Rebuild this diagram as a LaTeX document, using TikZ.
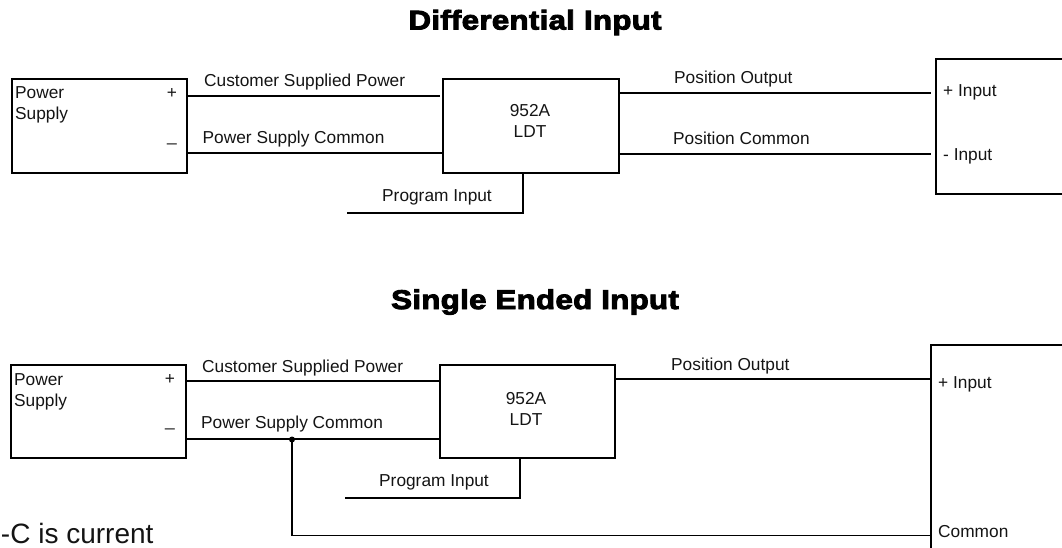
\documentclass[tikz,border=0pt]{standalone}
\usepackage{fontspec}
\setmainfont{Liberation Sans}
\newfontfamily\titlefont[FakeBold=3.5,FakeStretch=1.16,LetterSpace=1]{Liberation Sans Bold}
\begin{document}
\begin{tikzpicture}[x=1pt,y=-1pt,
  box/.style={draw=black,line width=1.9pt,rectangle,inner sep=0pt,anchor=north west,fill=none},
  wire/.style={draw=black,line width=1.9pt,line cap=butt},
  lbl/.style={inner sep=0pt,anchor=base west,font=\fontsize{17.3}{21}\selectfont,text=black!92},
  ctr/.style={lbl,anchor=base},
  heading/.style={inner sep=0pt,anchor=base,font=\fontsize{27}{30}\titlefont}]
\useasboundingbox (0,0) rectangle (1062,547);
% --- Differential Input
\node[heading] (t1) at (535,29.5) {Differential Input};
\node[box,minimum width=175pt,minimum height=94pt] (ps1) at (11,78) {};
\node[box,minimum width=176pt,minimum height=94pt] (ldt1) at (442,78) {};
\node[box,minimum width=200pt,minimum height=135pt] (in1) at (935,58) {};
\node[lbl] (ps1a) at (15,98.5) {Power};
\node[lbl] (ps1b) at (15,119.5) {Supply};
\node[ctr] (ps1p) at (172,98) {+};
\node[ctr] (ps1m) at (172,141) {\_};
\node[ctr] (l1a) at (530,116) {952A};
\node[ctr] (l1b) at (530,137) {LDT};
\node[lbl] (w1a) at (204,86) {Customer Supplied Power};
\node[lbl] (w1b) at (202.5,143.6) {Power Supply Common};
\node[lbl] (w1c) at (382,201.5) {Program Input};
\node[lbl] (w1d) at (674,83) {Position Output};
\node[lbl] (w1e) at (673,144) {Position Common};
\node[lbl] (i1a) at (943,96) {+ Input};
\node[lbl] (i1b) at (943,160) {- Input};
\coordinate (c1a) at (ps1.east |- 0,96);
\coordinate (c1b) at (440,96);
\coordinate (c1c) at (ps1.east |- 0,153);
\coordinate (c1d) at (ldt1.west |- 0,153);
\coordinate (c1e) at (ldt1.east |- 0,93);
\coordinate (c1f) at (931,93);
\coordinate (c1g) at (ldt1.east |- 0,154);
\coordinate (c1h) at (931,154);
\coordinate (c1i) at (523,172);
\coordinate (c1j) at (523,213);
\coordinate (c1k) at (347,213);
\draw[wire] (c1a) -- (c1b);
\draw[wire] (c1c) -- (c1d);
\draw[wire] (c1e) -- (c1f);
\draw[wire] (c1g) -- (c1h);
\draw[wire] (c1i) -- (c1j) -- (c1k);
% --- Single Ended Input
\node[heading] (t2) at (535,309) {Single Ended Input};
\node[box,minimum width=175pt,minimum height=93pt] (ps2) at (10,364) {};
\node[box,minimum width=175pt,minimum height=93pt] (ldt2) at (439,364) {};
\node[box,minimum width=200pt,minimum height=260pt] (in2) at (930,344) {};
\node[lbl] (ps2a) at (14,385) {Power};
\node[lbl] (ps2b) at (14,406) {Supply};
\node[ctr] (ps2p) at (170,384.5) {+};
\node[ctr] (ps2m) at (170,426) {\_};
\node[ctr] (l2a) at (526,404) {952A};
\node[ctr] (l2b) at (526,425) {LDT};
\node[lbl] (w2a) at (202,372) {Customer Supplied Power};
\node[lbl] (w2b) at (201,428.4) {Power Supply Common};
\node[lbl] (w2c) at (379,486.7) {Program Input};
\node[lbl] (w2d) at (671,370) {Position Output};
\node[lbl] (i2a) at (938,388) {+ Input};
\node[lbl] (i2b) at (938,537) {Common};
\node[inner sep=0pt,anchor=base west,font=\fontsize{28}{32}\selectfont,text=black!92] (note) at (0.8,543) {-C is current};
\coordinate (c2a) at (ps2.east |- 0,381);
\coordinate (c2b) at (ldt2.west |- 0,381);
\coordinate (c2c) at (ps2.east |- 0,439);
\coordinate (c2d) at (ldt2.west |- 0,439);
\coordinate (c2e) at (ldt2.east |- 0,379);
\coordinate (c2f) at (in2.west |- 0,379);
\coordinate (c2g) at (520,457);
\coordinate (c2h) at (520,498);
\coordinate (c2i) at (345,498);
\coordinate (j) at (292,439.5);
\coordinate (c2k) at (292,535.5);
\coordinate (c2l) at (in2.west |- 0,535.5);
\draw[wire] (c2a) -- (c2b);
\draw[wire] (c2c) -- (c2d);
\draw[wire] (c2e) -- (c2f);
\draw[wire] (c2g) -- (c2h) -- (c2i);
\draw[wire] (j) -- (c2k) -- (c2l);
\fill[black] (j) circle (3pt);
\end{tikzpicture}
\end{document}
